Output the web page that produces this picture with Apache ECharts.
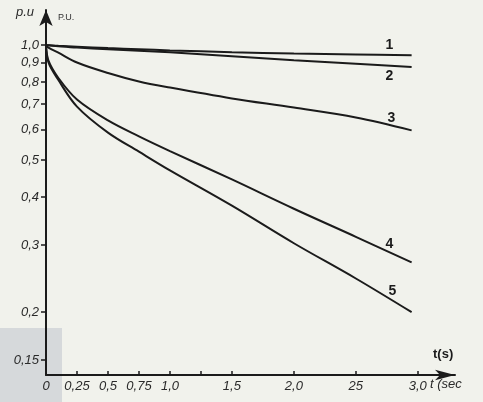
<!DOCTYPE html>
<html>
<head>
<meta charset="utf-8">
<script src="https://cdn.jsdelivr.net/npm/echarts@6/dist/echarts.min.js"></script>
<style>
  html, body { margin: 0; padding: 0; background: #f1f2ec; }
  #chart { width: 483px; height: 402px; }
</style>
</head>
<body>
<div id="chart"></div>
<script>
// time samples (s) shared by every curve
const times = [0, 0.02, 0.1, 0.25, 0.5, 0.75, 1.0, 1.5, 2.0, 2.5, 2.95];

// p.u. values
const curve1 = [1.0, 0.999, 0.995, 0.99, 0.982, 0.975, 0.968, 0.958, 0.95, 0.945, 0.941];
const curve2 = [1.0, 0.998, 0.993, 0.985, 0.975, 0.966, 0.957, 0.935, 0.912, 0.893, 0.876];
const curve3 = [1.0, 0.985, 0.955, 0.9, 0.845, 0.803, 0.774, 0.725, 0.686, 0.646, 0.598];
const curve4 = [1.0, 0.91, 0.82, 0.72, 0.635, 0.577, 0.528, 0.445, 0.373, 0.315, 0.27];
const curve5 = [1.0, 0.90, 0.81, 0.69, 0.59, 0.526, 0.47, 0.38, 0.303, 0.245, 0.2];

const curveNames = ['1', '2', '3', '4', '5'];

// tick labels
const yTicks = [0.15, 0.2, 0.3, 0.4, 0.5, 0.6, 0.7, 0.8, 0.9, 1.0];
const yTickText = ['0,15', '0,2', '0,3', '0,4', '0,5', '0,6', '0,7', '0,8', '0,9', '1,0'];
const xTicks = [0.25, 0.5, 0.75, 1.0, 1.25, 1.5, 2.0, 2.5, 3.0];
const xLabels = [0, 0.25, 0.5, 0.75, 1.0, 1.5, 2.0, 2.5, 3.0];
const xLabelText = ['0', '0,25', '0,5', '0,75', '1,0', '1,5', '2,0', '25', '3,0'];

const ink = '#1b1b1b';
const labelFont = 'Liberation Sans Narrow, Liberation Sans, sans-serif';

// where each number label sits relative to its curve end
const endOffsets = [[-26, -10], [-26, 9], [-24, -12], [-26, -18], [-23, -21]];

const allCurves = [curve1, curve2, curve3, curve4, curve5];

const chart = echarts.init(document.getElementById('chart'));

chart.setOption({
  backgroundColor: '#f1f2ec',
  animation: false,
  grid: { left: 46, right: 28, top: 10, bottom: 27 },
  xAxis: {
    type: 'value',
    min: 0,
    max: 3.3,
    name: 't(s)',
    nameLocation: 'end',
    nameGap: -22,
    nameTextStyle: {
      color: ink, fontWeight: 'bold', fontSize: 13, fontFamily: labelFont,
      verticalAlign: 'bottom', padding: [0, 0, 14, 0]
    },
    axisLine: {
      lineStyle: { color: ink, width: 2 },
      symbol: ['none', 'arrow'],
      symbolSize: [8, 20]
    },
    axisTick: {
      show: true, inside: true, length: 4,
      lineStyle: { color: ink, width: 1.5 },
      customValues: xTicks
    },
    axisLabel: {
      customValues: xLabels,
      color: '#2a2a2a',
      fontStyle: 'italic',
      fontSize: 13,
      fontFamily: labelFont,
      margin: 5,
      formatter: function (v) {
        const i = xLabels.indexOf(v);
        return i >= 0 ? xLabelText[i] : '';
      }
    },
    splitLine: { show: false }
  },
  yAxis: {
    type: 'log',
    logBase: 10,
    min: 0.137,
    max: 1.235,
    name: 'P.U.',
    nameLocation: 'end',
    nameGap: -8,
    nameTextStyle: {
      color: '#333', fontSize: 9, fontFamily: labelFont,
      align: 'left', verticalAlign: 'middle', padding: [0, 0, 0, 12]
    },
    axisLine: {
      show: true,
      lineStyle: { color: ink, width: 2 },
      symbol: ['none', 'arrow'],
      symbolSize: [10, 16]
    },
    axisTick: {
      show: true, length: 5,
      lineStyle: { color: ink, width: 1.5 },
      customValues: yTicks
    },
    axisLabel: {
      customValues: yTicks,
      color: '#2a2a2a',
      fontStyle: 'italic',
      fontSize: 13,
      fontFamily: labelFont,
      margin: 7,
      formatter: function (v) {
        let best = 0;
        yTicks.forEach(function (t, i) {
          if (Math.abs(t - v) < Math.abs(yTicks[best] - v)) best = i;
        });
        return yTickText[best];
      }
    },
    splitLine: { show: false }
  },
  graphic: [
    {
      type: 'rect', silent: true, z: -10,
      shape: { x: 0, y: 328, width: 62, height: 74 },
      style: { fill: '#d6d9db' }
    },
    {
      type: 'text', left: 16, top: 6,
      style: { text: 'p.u', fill: '#2a2a2a', font: 'italic 13px ' + labelFont }
    },
    {
      type: 'text', left: 430, top: 378,
      style: { text: 't (sec', fill: '#2a2a2a', font: 'italic 13px ' + labelFont }
    }
  ],
  series: allCurves.map(function (vals, k) {
    return {
      name: curveNames[k],
      type: 'line',
      smooth: 0.35,
      showSymbol: false,
      lineStyle: { color: ink, width: 2 },
      data: times.map(function (t, i) { return [t, vals[i]]; }),
      endLabel: {
        show: true,
        formatter: '{a}',
        color: ink,
        fontWeight: 'bold',
        fontSize: 14,
        fontFamily: labelFont,
        distance: 0,
        offset: endOffsets[k]
      }
    };
  })
});
</script>
</body>
</html>
